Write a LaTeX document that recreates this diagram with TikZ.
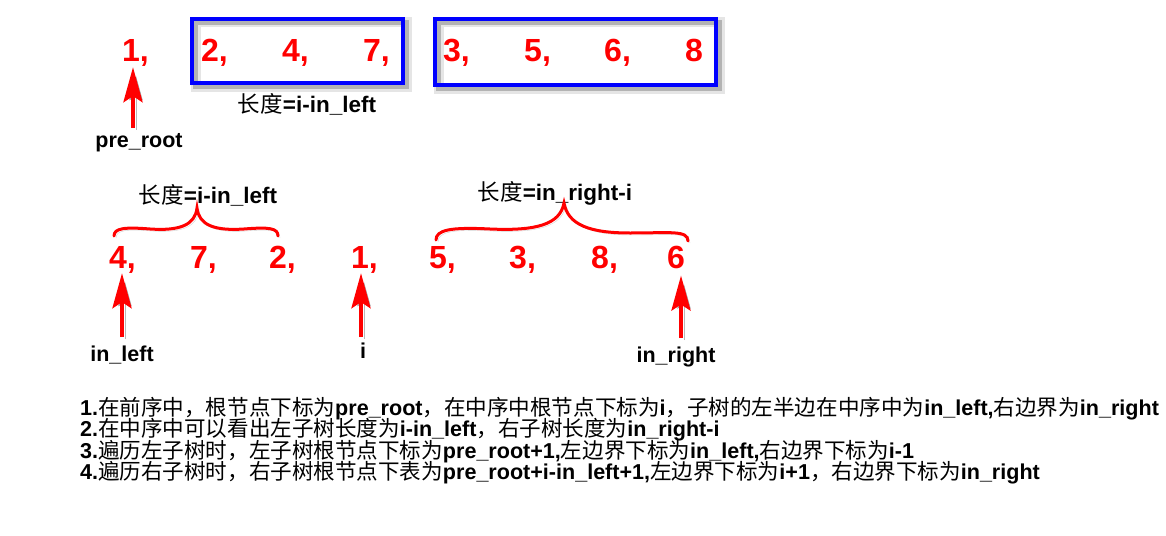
\documentclass[tikz,border=0pt]{standalone}
\usepackage{fontspec}
\setmainfont{Liberation Sans}
\newfontfamily\cjk{Noto Sans CJK SC}
\usetikzlibrary{arrows.meta,calc}
\definecolor{myred}{RGB}{255,0,0}
\definecolor{myblue}{RGB}{0,0,255}
\newcommand{\zh}[1]{{\cjk\mdseries #1}}
\newcommand{\bt}[1]{{\bfseries #1}}
\begin{document}
\begin{tikzpicture}[x=1pt,y=-1pt,
  num/.style={text=myred, font=\fontsize{32}{34}\selectfont\bfseries, inner sep=0pt, anchor=base west},
  lbl/.style={font=\fontsize{21.5}{24}\selectfont\bfseries, inner sep=0pt, anchor=base},
  lenlbl/.style={font=\fontsize{22.5}{24}\selectfont\bfseries, inner sep=0pt, anchor=base},
  txtline/.style={font=\fontsize{21.55}{22}\selectfont, inner sep=0pt, anchor=base west},
  frame/.style={draw=myblue, line width=4pt,
     preaction={draw=black, draw opacity=0.10, line width=10pt, transform canvas={shift={(3.5pt,-3.5pt)}}},
     preaction={draw=black, draw opacity=0.22, line width=5pt, transform canvas={shift={(3.5pt,-3.5pt)}}}},
  redarrow/.style={draw=myred, line width=4pt, -{Stealth[length=35pt,width=19pt,inset=6pt]},
     preaction={draw=black, opacity=0.28, transform canvas={shift={(3pt,-2pt)}}}},
  bracel/.style={draw=myred, line width=3pt, line cap=round,
     preaction={draw=black, draw opacity=0.18, transform canvas={shift={(2pt,-2pt)}}}}
]
\useasboundingbox (0,0) rectangle (1166,535);

% frames
\draw[frame] (192,19) rectangle (403,83);
\draw[frame] (435,19) rectangle (716,85);

% top row numbers
\node[num] (t1) at (122,62) {1,};
\node[num] (t2) at (201,62) {2,};
\node[num] (t4) at (282,62) {4,};
\node[num] (t7) at (363,62) {7,};
\node[num] (t3) at (443,62) {3,};
\node[num] (t5) at (524,62) {5,};
\node[num] (t6) at (604,62) {6,};
\node[num] (t8) at (685,62) {8};

\node[lenlbl] (len1) at (307,112) {\zh{长度}=i-in\_left};
\node[lbl] (lpre) at (139,147) {pre\_root};

\coordinate (apre) at ($(lpre.north)+(-6,-5)$);
\draw[redarrow] (apre) -- (apre |- t1.south);

% second row
\node[lenlbl] (len2) at (208,203) {\zh{长度}=i-in\_left};
\node[lenlbl] (len3) at (555,200) {\zh{长度}=in\_right-i};

\draw[bracel] (114,236) .. controls (114,228) and (125,227) .. (150,229)
   .. controls (180,231) and (195,225) .. (197,208)
   .. controls (199,225) and (214,231) .. (244,229)
   .. controls (269,227) and (278,228) .. (278,236);
\draw[bracel] (436,240) .. controls (436,230) and (450,227) .. (490,229)
   .. controls (535,231) and (560,225) .. (564,203)
   .. controls (568,225) and (590,233) .. (630,233)
   .. controls (670,233) and (688,230) .. (688,241);

\node[num] (b4) at (109,268) {4,};
\node[num] (b7) at (190,268) {7,};
\node[num] (b2) at (269,268) {2,};
\node[num] (b1) at (351,268) {1,};
\node[num] (b5) at (429,268) {5,};
\node[num] (b3) at (509,268) {3,};
\node[num] (b8) at (591,268) {8,};
\node[num] (b6) at (667,268) {6};

\node[lbl] (lleft) at (122,361) {in\_left};
\node[lbl] (li) at (363,358) {i};
\node[lbl] (lright) at (676,362) {in\_right};

\coordinate (aleft) at ($(lleft.north)+(0,-8)$);
\draw[redarrow] (aleft) -- (aleft |- b4.south);
\coordinate (ai) at ($(li.north)+(-2,-5)$);
\draw[redarrow] (ai) -- (ai |- b1.south);
\coordinate (aright) at ($(lright.north)+(5,-8)$);
\coordinate (arighttip) at ($(aright |- b6.south)+(0,7)$);
\draw[redarrow] (aright) -- (arighttip);

% explanation lines
\node[txtline] (s1) at (80,415) {\bt{1.}\zh{在前序中，根节点下标为}\bt{pre\_root}\zh{，在中序中根节点下标为}\bt{i}\zh{，子树的左半边在中序中为}\bt{in\_left,}\zh{右边界为}\bt{in\_right}};
\node[txtline] (s2) at (80,436.5) {\bt{2.}\zh{在中序中可以看出左子树长度为}\bt{i-in\_left}\zh{，右子树长度为}\bt{in\_right-i}};
\node[txtline] (s3) at (80,458) {\bt{3.}\zh{遍历左子树时，左子树根节点下标为}\bt{pre\_root+1,}\zh{左边界下标为}\bt{in\_left,}\zh{右边界下标为}\bt{i-1}};
\node[txtline] (s4) at (80,479.5) {\bt{4.}\zh{遍历右子树时，右子树根节点下表为}\bt{pre\_root+i-in\_left+1,}\zh{左边界下标为}\bt{i+1}\zh{，右边界下标为}\bt{in\_right}};
\end{tikzpicture}
\end{document}
